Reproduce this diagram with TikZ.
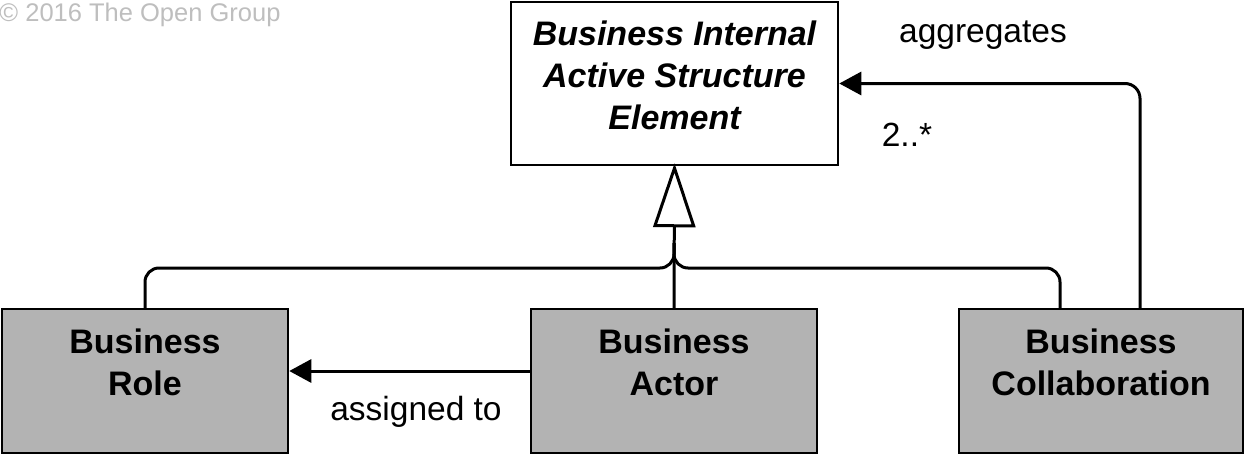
\documentclass[tikz,border=0pt]{standalone}
\usepackage{fontspec}
\setmainfont{Liberation Sans}
\usetikzlibrary{arrows.meta,calc}
\definecolor{boxgray}{RGB}{179,179,179}
\definecolor{copygray}{RGB}{190,190,190}
\begin{document}
\begin{tikzpicture}[x=1pt,y=-1pt,
  elem/.style={draw=black,line width=2.5pt,inner sep=0pt,minimum width=#1,minimum height=144pt},
  concrete/.style={elem=286pt,fill=boxgray},
  abstractbox/.style={draw=black,line width=2.5pt,fill=white,inner sep=0pt,minimum width=327pt,minimum height=163pt},
  boxtext/.style={align=center,font=\fontsize{34}{42}\selectfont\bfseries,inner sep=0pt},
  lbl/.style={font=\fontsize{33.5}{40}\selectfont,inner sep=0pt},
  conn/.style={line width=3pt,draw=black},
  filledtip/.style={-{Triangle[length=22pt,width=23pt]}},
  gentip/.style={-{Triangle[open,length=64pt,width=42pt,fill=white]},shorten >=-3pt}
]
\useasboundingbox (0,0) rectangle (1246,455);
\node[abstractbox] (top) at (674.5,83.5) {};
\node[boxtext,font=\fontsize{34}{42}\selectfont\bfseries\itshape] (topT) at (674.5,75) {Business Internal\\Active Structure\\Element};
\node[concrete] (role) at (145,381) {};
\node[boxtext] (roleT) at (145,362) {Business\\Role};
\node[concrete] (actor) at (674,381) {};
\node[boxtext] (actorT) at (674,362) {Business\\Actor};
\node[elem=284pt,fill=boxgray] (collab) at (1101,381) {};
\node[boxtext] (collabT) at (1101,362) {Business\\Collaboration};

\coordinate (junc) at (674,268);
\coordinate (colL) at ($(collab.north)+(-41,0)$);
\coordinate (colR) at ($(collab.north)+(39,0)$);
\coordinate (actL) at ($(actor.west)+(0,-10)$);

\draw[conn,gentip] (actor.north) -- (top.south);
\draw[conn,rounded corners=14pt] (role.north) |- (junc) -- ++(0,-25);
\draw[conn,rounded corners=14pt] (colL) |- (junc) -- ++(0,-25);
\draw[conn,rounded corners=15pt,filledtip] (colR) |- (top.east);
\draw[conn,filledtip] (actL) -- (role.east |- actL);

\node[lbl] (agg) at (983,35) {aggregates};
\node[lbl] (mult) at (907,135) {2..*};
\node[lbl] (asg) at (416,412) {assigned to};
\node[font=\fontsize{25.5}{30}\selectfont,text=copygray,inner sep=0pt] (copy) at (140,15) {© 2016 The Open Group};
\end{tikzpicture}
\end{document}
